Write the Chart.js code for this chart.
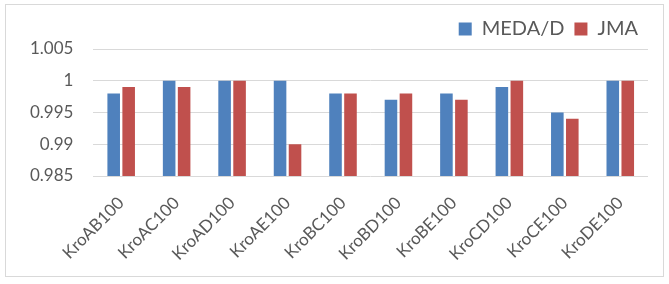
<!DOCTYPE html>
<html>
<head>
<meta charset="utf-8">
<script src="https://cdn.jsdelivr.net/npm/chart.js@4"></script>
<style>
  html, body { margin: 0; padding: 0; background: #fff; overflow: hidden; }
  #box {
    position: absolute; left: 5px; top: 4px;
    width: 659px; height: 273px;
    box-sizing: border-box; border: 1px solid #d9d9d9;
  }
</style>
</head>
<body>
<div id="box"><canvas id="chart"></canvas></div>
<script>
// values
const categories = ["KroAB100", "KroAC100", "KroAD100", "KroAE100", "KroBC100",
                    "KroBD100", "KroBE100", "KroCD100", "KroCE100", "KroDE100"];
const medaD = [0.998, 1, 1, 1, 0.998, 0.997, 0.998, 0.999, 0.995, 1];
const jma   = [0.999, 0.999, 1, 0.99, 0.998, 0.998, 0.997, 1, 0.994, 1];

const textColor = "#595959";
const gridColor = "#d9d9d9";
const fontFamily = "Lato, 'Noto Sans', sans-serif";

const ctx = document.getElementById("chart").getContext("2d");
new Chart(ctx, {
    type: "bar",
    data: {
        labels: categories,
        datasets: [
            { label: "MEDA/D", data: medaD, backgroundColor: "#4f81bd" },
            { label: "JMA", data: jma, backgroundColor: "#c0504d" }
        ]
    },
    options: {
        responsive: true,
        maintainAspectRatio: false,
        animation: false,
        categoryPercentage: 0.54,
        barPercentage: 0.84,
        layout: { autoPadding: false, padding: { top: 4, right: 15, left: 4, bottom: 0 } },
        plugins: {
            legend: {
                position: "top",
                align: "end",
                labels: {
                    boxWidth: 13,
                    boxHeight: 13,
                    padding: 10,
                    color: textColor,
                    font: { family: fontFamily, size: 20 }
                }
            },
            tooltip: { enabled: false }
        },
        scales: {
            x: {
                grid: { display: false },
                border: { display: false },
                afterFit: scale => { scale.height = 100; },
                ticks: {
                    autoSkip: false,
                    maxRotation: 45,
                    minRotation: 45,
                    padding: 9,
                    color: textColor,
                    font: { family: fontFamily, size: 17 }
                }
            },
            y: {
                min: 0.985,
                max: 1.005,
                border: { display: false },
                grid: { color: gridColor, lineWidth: 1, drawTicks: false },
                ticks: {
                    stepSize: 0.005,
                    padding: 20,
                    color: textColor,
                    font: { family: fontFamily, size: 17 },
                    callback: v => String(Number(v.toFixed(3)))
                }
            }
        }
    }
});
</script>
</body>
</html>
